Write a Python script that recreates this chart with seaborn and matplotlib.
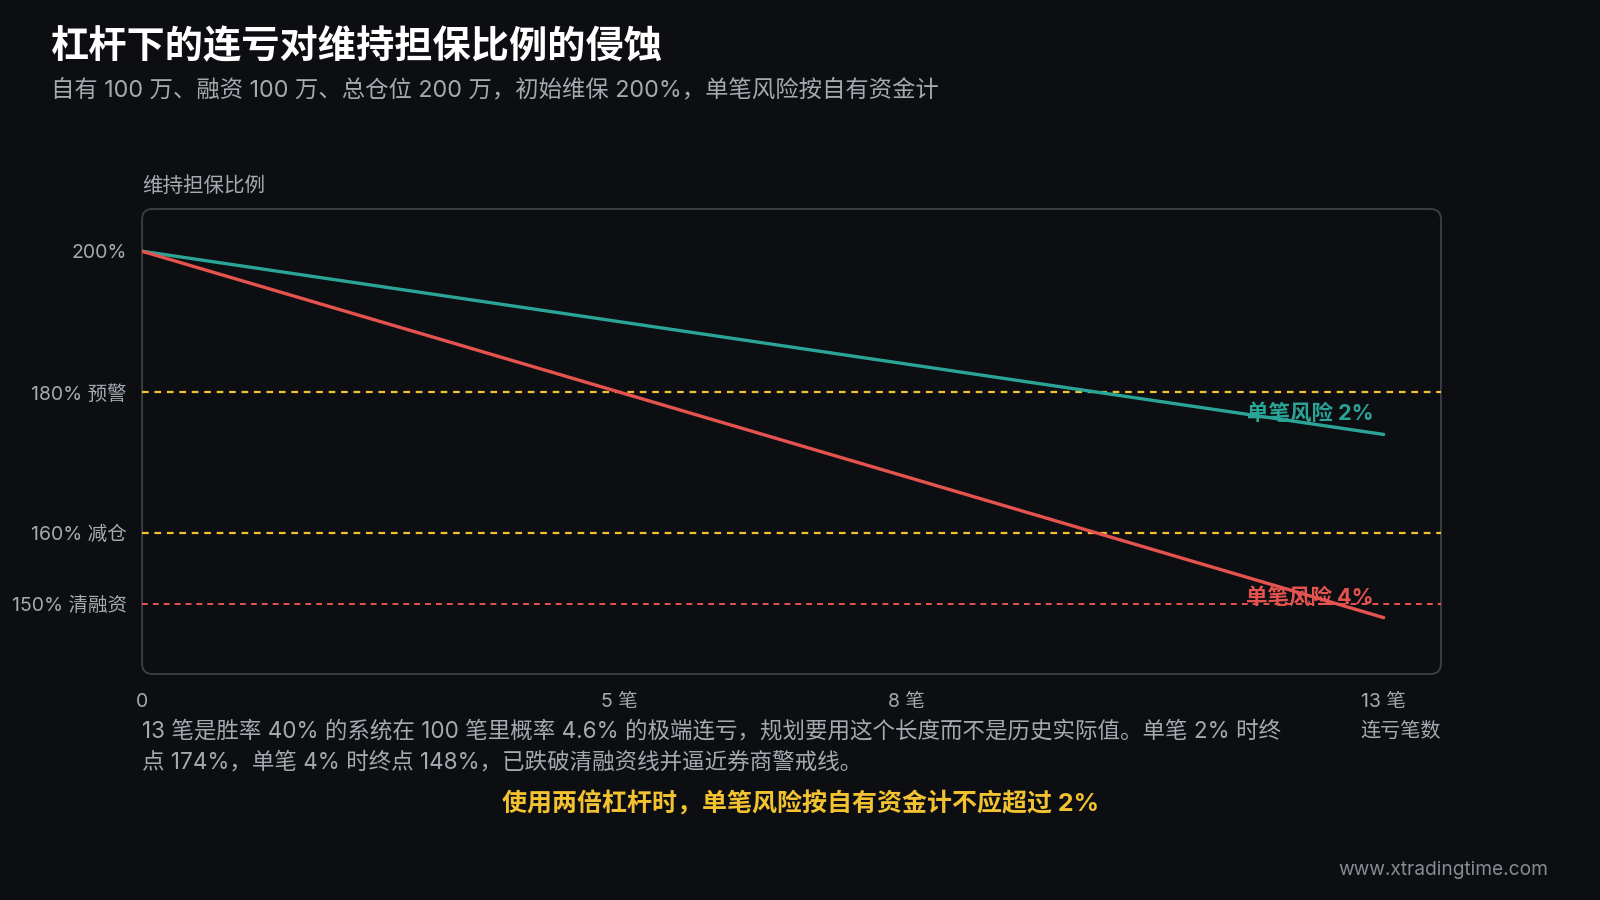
#维持担保比例在连亏下的变化
import seaborn as sns
import matplotlib.pyplot as plt
import pandas as pd
from matplotlib.patches import FancyBboxPatch

#数据
bishu = [0, 1, 2, 3, 4, 5, 6, 7, 8, 9, 10, 11, 12, 13]
risk_2 = [200, 198, 196, 194, 192, 190, 188, 186, 184, 182, 180, 178, 176, 174]
risk_4 = [200, 196, 192, 188, 184, 180, 176, 172, 168, 164, 160, 156, 152, 148]
xticks = [0, 5, 8, 13]
xtick_labels = ["0", "5 笔", "8 笔", "13 笔"]
yticks = [200, 180, 160, 150]
ytick_labels = ["200%", "180% 预警", "160% 减仓", "150% 清融资"]
lines_warn = [180, 160]
line_liq = 150

bg = "#0d0e12"
teal = "#2aa496"
red = "#e5534e"
yellow = "#f2c230"
gray = "#a8a9b0"

sns.set_theme(style="dark")
plt.rcParams["font.family"] = ["Inter", "Noto Sans CJK SC", "DejaVu Sans"]
plt.rcParams["axes.unicode_minus"] = False

df = pd.DataFrame({"n": bishu * 2,
                   "ratio": risk_2 + risk_4,
                   "risk": ["2%"] * len(bishu) + ["4%"] * len(bishu)})

fig = plt.figure(figsize=(16, 9), dpi=100, facecolor=bg)
ax = fig.add_axes([0.0888, 0.2511, 0.8118, 0.5167])
ax.set_facecolor(bg)

for y in lines_warn:
    ax.axhline(y, color=yellow, lw=1.6, ls=(0, (3, 2.6)), zorder=1)
ax.axhline(line_liq, color=red, lw=1.4, ls=(0, (3, 2.6)), zorder=1)

sns.lineplot(data=df, x="n", y="ratio", hue="risk", palette={"2%": teal, "4%": red},
             lw=2.4, legend=False, ax=ax, zorder=3)

ax.set_xlim(0, 13.6)
ax.set_ylim(140, 206)
for s in ax.spines.values():
    s.set_visible(False)

#圆角边框
box = FancyBboxPatch((0, 0), 1, 1, boxstyle="round,pad=0,rounding_size=0.008",
                     mutation_aspect=2.79, transform=ax.transAxes,
                     fill=False, ec="#3c3d44", lw=1.4, clip_on=False, zorder=0)
ax.add_patch(box)

ax.set_xticks(xticks)
ax.set_xticklabels(xtick_labels)
ax.set_yticks(yticks)
ax.set_yticklabels(ytick_labels)
ax.tick_params(axis="both", colors="#55565c", labelcolor=gray, labelsize=14,
               length=6, width=1.2, direction="out")
ax.tick_params(axis="x", pad=8)
ax.tick_params(axis="y", pad=5)
ax.grid(False)
ax.set_xlabel("")
ax.set_ylabel("")

ax.text(12.9, 177.0, "单笔风险 2%", color=teal, fontsize=15.5, fontweight="bold",
        ha="right", va="center", zorder=4)
ax.text(12.9, 150.9, "单笔风险 4%", color=red, fontsize=15.5, fontweight="bold",
        ha="right", va="center", zorder=4)

#文字
fig.text(0.032, 0.947, "杠杆下的连亏对维持担保比例的侵蚀", color="white",
         fontsize=27.5, fontweight="bold", va="center")
fig.text(0.032, 0.900, "自有 100 万、融资 100 万、总仓位 200 万，初始维保 200%，单笔风险按自有资金计",
         color=gray, fontsize=16.8, va="center")
fig.text(0.089, 0.793, "维持担保比例", color=gray, fontsize=14.8, va="center")
fig.text(0.9006, 0.188, "连亏笔数", color=gray, fontsize=14.5, va="center", ha="right")
fig.text(0.089, 0.170,
         "13 笔是胜率 40% 的系统在 100 笔里概率 4.6% 的极端连亏，规划要用这个长度而不是历史实际值。单笔 2% 时终\n"
         "点 174%，单笔 4% 时终点 148%，已跌破清融资线并逼近券商警戒线。",
         color=gray, fontsize=16.2, va="center", linespacing=1.5)
fig.text(0.5, 0.107, "使用两倍杠杆时，单笔风险按自有资金计不应超过 2%", color=yellow,
         fontsize=18, fontweight="bold", ha="center", va="center")
fig.text(0.9675, 0.033, "www.xtradingtime.com", color="#8a8b92", fontsize=13.8,
         ha="right", va="center")

plt.savefig("out.png", dpi=100, facecolor=bg)
